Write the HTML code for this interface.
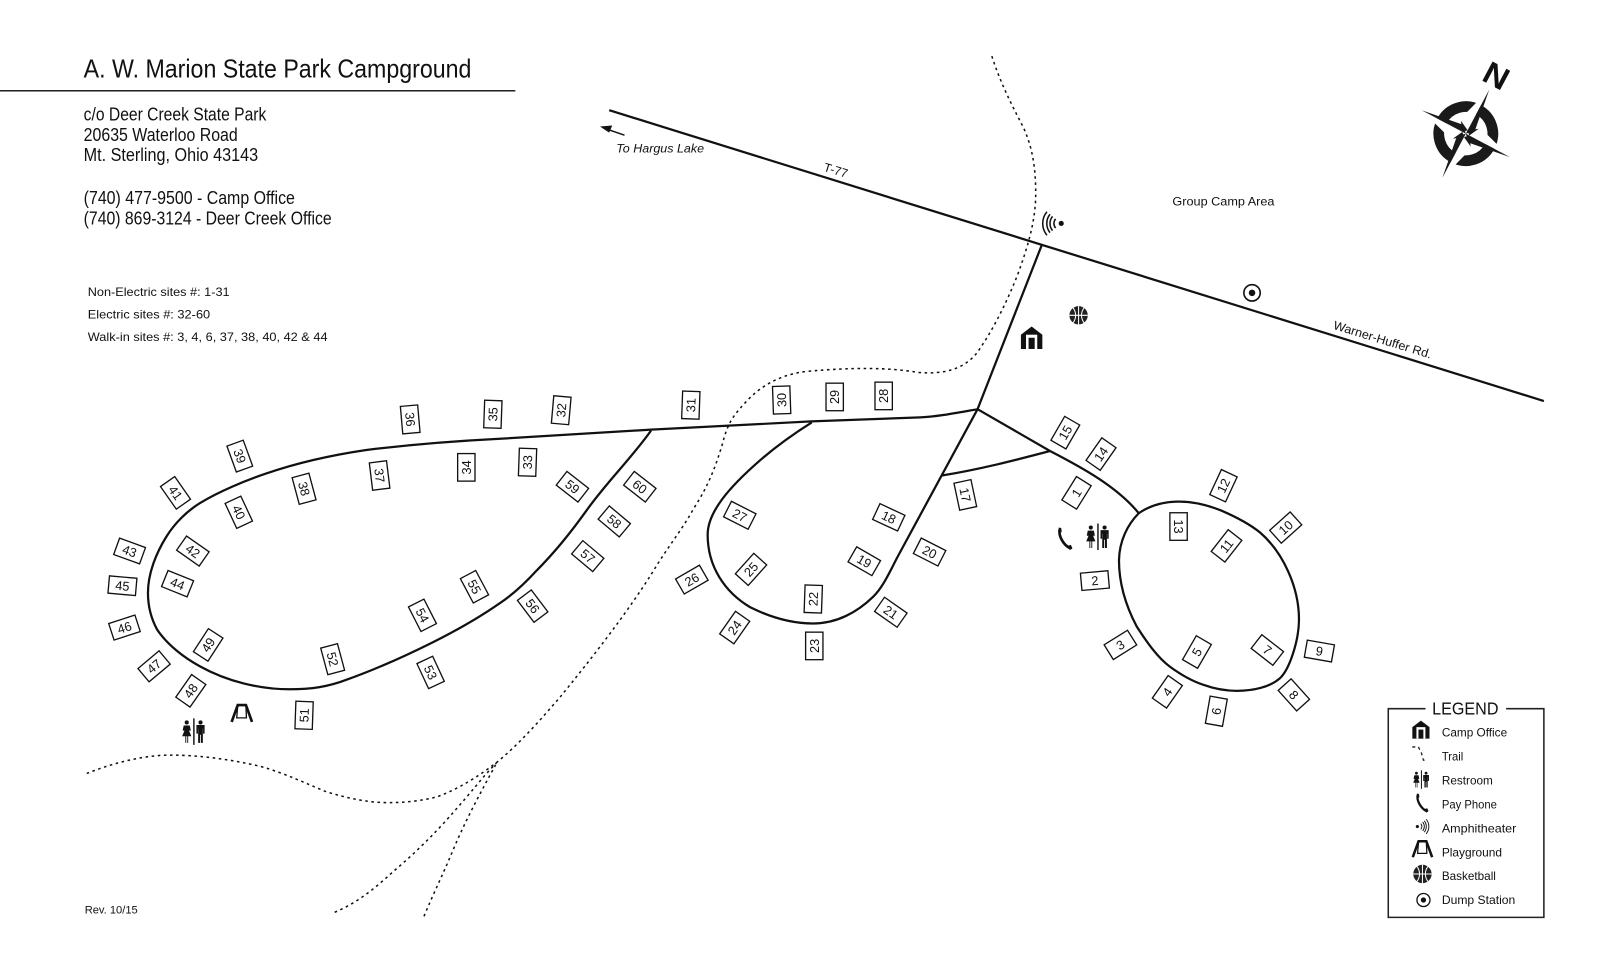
<!DOCTYPE html>
<html><head><meta charset="utf-8"><title>A. W. Marion State Park Campground</title>
<style>
html,body{margin:0;padding:0;background:#fff}
svg{display:block}
text{font-family:"Liberation Sans",sans-serif;fill:#111}
.s rect{fill:#fff;stroke:#111;stroke-width:1.3}
.s text{font-size:12.5px;text-anchor:middle}
.r{fill:none;stroke:#111;stroke-width:2.2;stroke-linejoin:round}
.d{fill:none;stroke:#111;stroke-width:1.5;stroke-dasharray:2.5 3.5}
.l{font-size:12px}
</style></head><body>
<svg xmlns="http://www.w3.org/2000/svg" width="1600" height="970" viewBox="0 0 1568 950.6">
<defs>
<g id="house"><path d="M-10.5,11V-3L0,-11L10.5,-3V11Z" fill="#111"/><rect x="-5.5" y="-3" width="11" height="14" fill="#fff"/><rect x="-3" y="0" width="6" height="11" fill="#111"/></g>
<g id="ball"><circle r="9" fill="#222"/><path d="M0,-9V9M-9,0H9M-5.5,-7.5C-2,-3 -2,3 -5.5,7.5M5.5,-7.5C2,-3 2,3 5.5,7.5" stroke="#fff" stroke-width="1" fill="none"/></g>
<g id="amph" fill="none" stroke="#111" stroke-width="1.5"><circle r="2.5" fill="#111" stroke="none"/><path d="M-5.5,-4.5A7,7 0 0 0 -5.5,4.5M-8.5,-7A11,11 0 0 0 -8.5,7M-11,-9A14.5,14.5 0 0 0 -11,9M-14,-11.5A18,18 0 0 0 -14,11.5"/></g>
<g id="dump"><circle r="8" fill="#fff" stroke="#111" stroke-width="1.6"/><circle r="3.2" fill="#111"/></g>
<g id="rest" fill="#111"><rect x="-.7" y="-13" width="1.4" height="26"/><circle cx="-7" cy="-9" r="2"/><path d="M-7,-6.5L-11.5,4.500H-8.4V11H-7.5V4.500H-6.5V11H-5.6V4.500H-2.500Z"/><path d="M-10,-6H-4L-3,-1H-11Z"/><circle cx="6.5" cy="-9" r="2"/><path d="M2.5,-6.5H10.500V2H9V-3H8.8V11H6.9V3H6.1V11H4.2V-3H4V2H2.5Z"/></g>
<g id="phone"><path d="M-5.5,-9.5C-7,-3 -2,6 5,9.5" fill="none" stroke="#111" stroke-width="2.6"/><path d="M-6.5,-11L-4,-10.5L-3.5,-6.5L-6,-6ZM2,7L5.5,6L7,9.5L4.5,11Z" fill="#111"/></g>
<g id="play" fill="none" stroke="#111"><path d="M-10,8.5L-4,-8H4L10,8.5" stroke-width="2.6"/><path d="M-4,-8L-5,4.5H4.5L4,-8" stroke-width="1.3"/></g>
</defs>

<text x="82" y="76" font-size="25.5" textLength="380" lengthAdjust="spacingAndGlyphs">A. W. Marion State Park Campground</text>
<rect x="0" y="88.2" width="505" height="1.5" fill="#222"/>
<g font-size="18">
<text x="82" y="118" textLength="179" lengthAdjust="spacingAndGlyphs">c/o Deer Creek State Park</text>
<text x="82" y="138" textLength="151" lengthAdjust="spacingAndGlyphs">20635 Waterloo Road</text>
<text x="82" y="158" textLength="171" lengthAdjust="spacingAndGlyphs">Mt. Sterling, Ohio 43143</text>
<text x="82" y="200" textLength="207" lengthAdjust="spacingAndGlyphs">(740) 477-9500 - Camp Office</text>
<text x="82" y="220" textLength="243" lengthAdjust="spacingAndGlyphs">(740) 869-3124 - Deer Creek Office</text>
</g>
<g font-size="12">
<text x="86" y="290" textLength="139" lengthAdjust="spacingAndGlyphs">Non-Electric sites #: 1-31</text>
<text x="86" y="312" textLength="120" lengthAdjust="spacingAndGlyphs">Electric sites #: 32-60</text>
<text x="86" y="334" textLength="235" lengthAdjust="spacingAndGlyphs">Walk-in sites #: 3, 4, 6, 37, 38, 40, 42 &amp; 44</text>
<text x="1149" y="201.5" textLength="100" lengthAdjust="spacingAndGlyphs">Group Camp Area</text>
<text x="604" y="149.5" font-style="italic" textLength="86" lengthAdjust="spacingAndGlyphs">To Hargus Lake</text>
<text transform="translate(819 167) rotate(17)" y="4" text-anchor="middle">T-77</text>
<text transform="translate(1355 333) rotate(17)" y="4" text-anchor="middle" textLength="100" lengthAdjust="spacingAndGlyphs">Warner-Huffer Rd.</text>
</g>
<text x="83" y="895" font-size="11" textLength="52" lengthAdjust="spacingAndGlyphs">Rev. 10/15</text>
<path d="M612,132.500L596,127" stroke="#111" stroke-width="1.4" fill="none"/>
<path d="M588,124L600,123L597,130Z" fill="#111"/>

<!-- trails -->
<path class="d" d="M972,55C980,80 990,100 1003,125C1012,145 1015,165 1015,190C1015,215 1008,240 997,270C985,300 972,325 958,345C945,362 925,367 900,365C870,360 835,360 790,364C765,367 745,378 730,395C718,408 713,415 708,435C702,455 695,475 680,498C668,520 655,535 640,560C615,600 580,645 549,683C530,705 510,728 487,747"/>
<path class="d" d="M85,758C110,748 140,740 167,740C195,740 225,744 255,751C280,758 300,768 320,776C340,782 358,786 376,786.5C395,787 412,785 428,781C450,773 470,760 487,747"/>
<path class="d" d="M328,894C350,885 368,870 385.5,854C402,840 418,825 434.5,807C450,790 465,772 475,760L487,747"/>
<path class="d" d="M415.5,898C425,875 435,855 444,833C458,800 472,775 487,747"/>

<!-- roads -->
<path class="r" d="M597,108L1513,393"/>
<path class="r" d="M1021,240L958,401"/>
<path class="r" d="M958,401L880,545C873,558 866,575 855.5,585C840,600 820,611 797,611C775,611 753,604 735,595C710,580 693.5,555 693.5,524C693.5,502 714,478 745,451C760,438 778,425 795.5,414"/>
<path class="r" d="M958,401C935,405 920,408 902,409L795,413L638,421L490,430C450,432 400,436 359,441C325,446 290,454 261,464C240,471 214,482 196,493C183,501 171,513 163,526C153,542 145,562 145,581C145,595 148,606 154,617C164,632 181,645 196,653C223,668 255,675.5 284,675.5C305,675.5 322,673 340,666C368,656 397,643 425,629C447,618 470,605 490,591C505,581 516,570 526,559C545,540 560,521 575,500C595,472 618,450 638,422"/>
<path class="r" d="M958,401L1029,442C1060,458 1095,477 1116,503"/>
<path class="r" d="M923,466C960,460 995,451 1029,442"/>
<path class="r" d="M1153,491.6C1168,491 1182,494.5 1196,500C1210,506 1224,513 1235,522C1257,541 1273,575 1273,607C1273,627 1264,656 1254,665C1244,673.5 1228,677 1212,677C1200,677 1190,675 1179,671C1167,667 1157,661 1146.6,653.4C1134,644 1123,628 1114,614C1104,595 1096.6,572 1096.6,549C1097,530 1105,514 1116,503C1126,496 1139,492 1153,491.6Z"/>

<!-- sites -->
<g class="s">
<g transform="translate(1055 483) rotate(-58)"><rect x="-13.5" y="-8.5" width="27" height="17"/><text y="4.4">1</text></g>
<g transform="translate(1073 569) rotate(-5)"><rect x="-13.5" y="-8.5" width="27" height="17"/><text y="4.4">2</text></g>
<g transform="translate(1098 632) rotate(-32)"><rect x="-13.5" y="-8.5" width="27" height="17"/><text y="4.4">3</text></g>
<g transform="translate(1144 678) rotate(-55)"><rect x="-13.5" y="-8.5" width="27" height="17"/><text y="4.4">4</text></g>
<g transform="translate(1173 639) rotate(-60)"><rect x="-13.5" y="-8.5" width="27" height="17"/><text y="4.4">5</text></g>
<g transform="translate(1192 697) rotate(-80)"><rect x="-13.5" y="-8.5" width="27" height="17"/><text y="4.4">6</text></g>
<g transform="translate(1242 637) rotate(38)"><rect x="-13.5" y="-8.5" width="27" height="17"/><text y="4.4">7</text></g>
<g transform="translate(1268 681) rotate(48)"><rect x="-13.5" y="-8.5" width="27" height="17"/><text y="4.4">8</text></g>
<g transform="translate(1293 638) rotate(10)"><rect x="-13.5" y="-8.5" width="27" height="17"/><text y="4.4">9</text></g>
<g transform="translate(1260 517) rotate(-42)"><rect x="-13.5" y="-8.5" width="27" height="17"/><text y="4.4">10</text></g>
<g transform="translate(1202 535) rotate(-52)"><rect x="-13.5" y="-8.5" width="27" height="17"/><text y="4.4">11</text></g>
<g transform="translate(1199 476) rotate(-65)"><rect x="-13.5" y="-8.5" width="27" height="17"/><text y="4.4">12</text></g>
<g transform="translate(1155 516) rotate(90)"><rect x="-13.5" y="-8.5" width="27" height="17"/><text y="4.4">13</text></g>
<g transform="translate(1079 445) rotate(-55)"><rect x="-13.5" y="-8.5" width="27" height="17"/><text y="4.4">14</text></g>
<g transform="translate(1044 424) rotate(-60)"><rect x="-13.5" y="-8.5" width="27" height="17"/><text y="4.4">15</text></g>
<g transform="translate(946 485) rotate(78)"><rect x="-13.5" y="-8.5" width="27" height="17"/><text y="4.4">17</text></g>
<g transform="translate(871 507) rotate(25)"><rect x="-13.5" y="-8.5" width="27" height="17"/><text y="4.4">18</text></g>
<g transform="translate(847 550) rotate(30)"><rect x="-13.5" y="-8.5" width="27" height="17"/><text y="4.4">19</text></g>
<g transform="translate(911 541) rotate(27)"><rect x="-13.5" y="-8.5" width="27" height="17"/><text y="4.4">20</text></g>
<g transform="translate(873 600) rotate(35)"><rect x="-13.5" y="-8.5" width="27" height="17"/><text y="4.4">21</text></g>
<g transform="translate(797 587) rotate(-88)"><rect x="-13.5" y="-8.5" width="27" height="17"/><text y="4.4">22</text></g>
<g transform="translate(798 633) rotate(-90)"><rect x="-13.5" y="-8.5" width="27" height="17"/><text y="4.4">23</text></g>
<g transform="translate(720 615) rotate(-55)"><rect x="-13.5" y="-8.5" width="27" height="17"/><text y="4.4">24</text></g>
<g transform="translate(736 558) rotate(-48)"><rect x="-13.5" y="-8.5" width="27" height="17"/><text y="4.4">25</text></g>
<g transform="translate(678 568) rotate(-30)"><rect x="-13.5" y="-8.5" width="27" height="17"/><text y="4.4">26</text></g>
<g transform="translate(725 505) rotate(27)"><rect x="-13.5" y="-8.5" width="27" height="17"/><text y="4.4">27</text></g>
<g transform="translate(866 388) rotate(-90)"><rect x="-13.5" y="-8.5" width="27" height="17"/><text y="4.4">28</text></g>
<g transform="translate(818 389) rotate(-90)"><rect x="-13.5" y="-8.5" width="27" height="17"/><text y="4.4">29</text></g>
<g transform="translate(766 392) rotate(-92)"><rect x="-13.5" y="-8.5" width="27" height="17"/><text y="4.4">30</text></g>
<g transform="translate(677 397) rotate(-88)"><rect x="-13.5" y="-8.5" width="27" height="17"/><text y="4.4">31</text></g>
<g transform="translate(550 402) rotate(-85)"><rect x="-13.5" y="-8.5" width="27" height="17"/><text y="4.4">32</text></g>
<g transform="translate(517 453) rotate(-88)"><rect x="-13.5" y="-8.5" width="27" height="17"/><text y="4.4">33</text></g>
<g transform="translate(457 458) rotate(-90)"><rect x="-13.5" y="-8.5" width="27" height="17"/><text y="4.4">34</text></g>
<g transform="translate(483 406) rotate(-88)"><rect x="-13.5" y="-8.5" width="27" height="17"/><text y="4.4">35</text></g>
<g transform="translate(402 411) rotate(85)"><rect x="-13.5" y="-8.5" width="27" height="17"/><text y="4.4">36</text></g>
<g transform="translate(372 466) rotate(83)"><rect x="-13.5" y="-8.5" width="27" height="17"/><text y="4.4">37</text></g>
<g transform="translate(298 479) rotate(75)"><rect x="-13.5" y="-8.5" width="27" height="17"/><text y="4.4">38</text></g>
<g transform="translate(235 447) rotate(70)"><rect x="-13.5" y="-8.5" width="27" height="17"/><text y="4.4">39</text></g>
<g transform="translate(234 502) rotate(65)"><rect x="-13.5" y="-8.5" width="27" height="17"/><text y="4.4">40</text></g>
<g transform="translate(172 483) rotate(55)"><rect x="-13.5" y="-8.5" width="27" height="17"/><text y="4.4">41</text></g>
<g transform="translate(189 540) rotate(35)"><rect x="-13.5" y="-8.5" width="27" height="17"/><text y="4.4">42</text></g>
<g transform="translate(127 540) rotate(20)"><rect x="-13.5" y="-8.5" width="27" height="17"/><text y="4.4">43</text></g>
<g transform="translate(174 572) rotate(22)"><rect x="-13.5" y="-8.5" width="27" height="17"/><text y="4.4">44</text></g>
<g transform="translate(120 574) rotate(5)"><rect x="-13.5" y="-8.5" width="27" height="17"/><text y="4.4">45</text></g>
<g transform="translate(122 615) rotate(-18)"><rect x="-13.5" y="-8.5" width="27" height="17"/><text y="4.4">46</text></g>
<g transform="translate(151 653) rotate(-40)"><rect x="-13.5" y="-8.5" width="27" height="17"/><text y="4.4">47</text></g>
<g transform="translate(187 677) rotate(-55)"><rect x="-13.5" y="-8.5" width="27" height="17"/><text y="4.4">48</text></g>
<g transform="translate(204 632) rotate(-57)"><rect x="-13.5" y="-8.5" width="27" height="17"/><text y="4.4">49</text></g>
<g transform="translate(298 701) rotate(-88)"><rect x="-13.5" y="-8.5" width="27" height="17"/><text y="4.4">51</text></g>
<g transform="translate(326 646) rotate(75)"><rect x="-13.5" y="-8.5" width="27" height="17"/><text y="4.4">52</text></g>
<g transform="translate(422 659) rotate(65)"><rect x="-13.5" y="-8.5" width="27" height="17"/><text y="4.4">53</text></g>
<g transform="translate(414 603) rotate(63)"><rect x="-13.5" y="-8.5" width="27" height="17"/><text y="4.4">54</text></g>
<g transform="translate(465 575) rotate(62)"><rect x="-13.5" y="-8.5" width="27" height="17"/><text y="4.4">55</text></g>
<g transform="translate(522 594) rotate(53)"><rect x="-13.5" y="-8.5" width="27" height="17"/><text y="4.4">56</text></g>
<g transform="translate(576 545) rotate(40)"><rect x="-13.5" y="-8.5" width="27" height="17"/><text y="4.4">57</text></g>
<g transform="translate(602 511) rotate(40)"><rect x="-13.5" y="-8.5" width="27" height="17"/><text y="4.4">58</text></g>
<g transform="translate(561 477) rotate(38)"><rect x="-13.5" y="-8.5" width="27" height="17"/><text y="4.4">59</text></g>
<g transform="translate(627 477) rotate(38)"><rect x="-13.5" y="-8.5" width="27" height="17"/><text y="4.4">60</text></g>
</g>

<!-- map icons -->
<use href="#house" transform="translate(1011 331)"/>
<use href="#ball" transform="translate(1057 309)"/>
<use href="#amph" transform="translate(1040 219)"/>
<use href="#dump" transform="translate(1227 287)"/>
<use href="#rest" transform="translate(1076 526)"/>
<use href="#rest" transform="translate(190 717)"/>
<use href="#phone" transform="translate(1044 528)"/>
<use href="#play" transform="translate(237 699)"/>

<!-- compass -->
<g transform="translate(1436.5 131) rotate(28)">
<circle r="26.5" fill="none" stroke="#1a1a1a" stroke-width="10.5"/>
<path d="M0,-49L-12,-9L0,0ZM49,0L9,-12L0,0ZM0,49L12,9L0,0ZM-49,0L-9,12L0,0Z" fill="#fff"/>
<path d="M0,0L0,-49L6.5,-6.5ZM0,0L49,0L6.5,6.5ZM0,0L0,49L-6.5,6.5ZM0,0L-49,0L-6.5,-6.5Z" fill="#1a1a1a"/>
<path d="M3,-3L-1,-15L-3,-3ZM3,3L15,-1L3,-3ZM-3,3L1,15L3,3ZM-3,-3L-15,1L-3,3Z" fill="#1a1a1a" transform="rotate(-45) scale(.9)"/>
</g>
<text transform="translate(1466.5 74) rotate(28)" y="11" font-size="31" font-weight="bold" text-anchor="middle" textLength="24" lengthAdjust="spacingAndGlyphs">N</text>

<!-- legend -->
<path d="M1397,694.5H1360.5V899H1513V694.5H1476" fill="none" stroke="#222" stroke-width="1.5"/>
<text x="1436" y="700" font-size="17" text-anchor="middle" textLength="65" lengthAdjust="spacingAndGlyphs">LEGEND</text>
<use href="#house" transform="translate(1392.5 715) scale(.8)"/>
<path d="M1384,732H1390L1393,738L1395,745H1399" fill="none" stroke="#222" stroke-width="1.3" stroke-dasharray="3 3"/>
<use href="#rest" transform="translate(1393 764) scale(.7)"/>
<use href="#phone" transform="translate(1394 787) scale(.85)"/>
<use href="#amph" transform="translate(1389 810) scale(-.62 .62)"/>
<use href="#play" transform="translate(1394 832) scale(.95)"/>
<use href="#ball" transform="translate(1394 856.5)"/>
<use href="#dump" transform="translate(1395 882) scale(.8)"/>
<g class="l">
<text x="1413" y="722" textLength="64" lengthAdjust="spacingAndGlyphs">Camp Office</text>
<text x="1413" y="745.5" textLength="21" lengthAdjust="spacingAndGlyphs">Trail</text>
<text x="1413" y="769" textLength="50" lengthAdjust="spacingAndGlyphs">Restroom</text>
<text x="1413" y="792.5" textLength="54" lengthAdjust="spacingAndGlyphs">Pay Phone</text>
<text x="1413" y="816" textLength="73" lengthAdjust="spacingAndGlyphs">Amphitheater</text>
<text x="1413" y="839.5" textLength="59" lengthAdjust="spacingAndGlyphs">Playground</text>
<text x="1413" y="862.5" textLength="53" lengthAdjust="spacingAndGlyphs">Basketball</text>
<text x="1413" y="886" textLength="72" lengthAdjust="spacingAndGlyphs">Dump Station</text>
</g>
</svg>
</body></html>
